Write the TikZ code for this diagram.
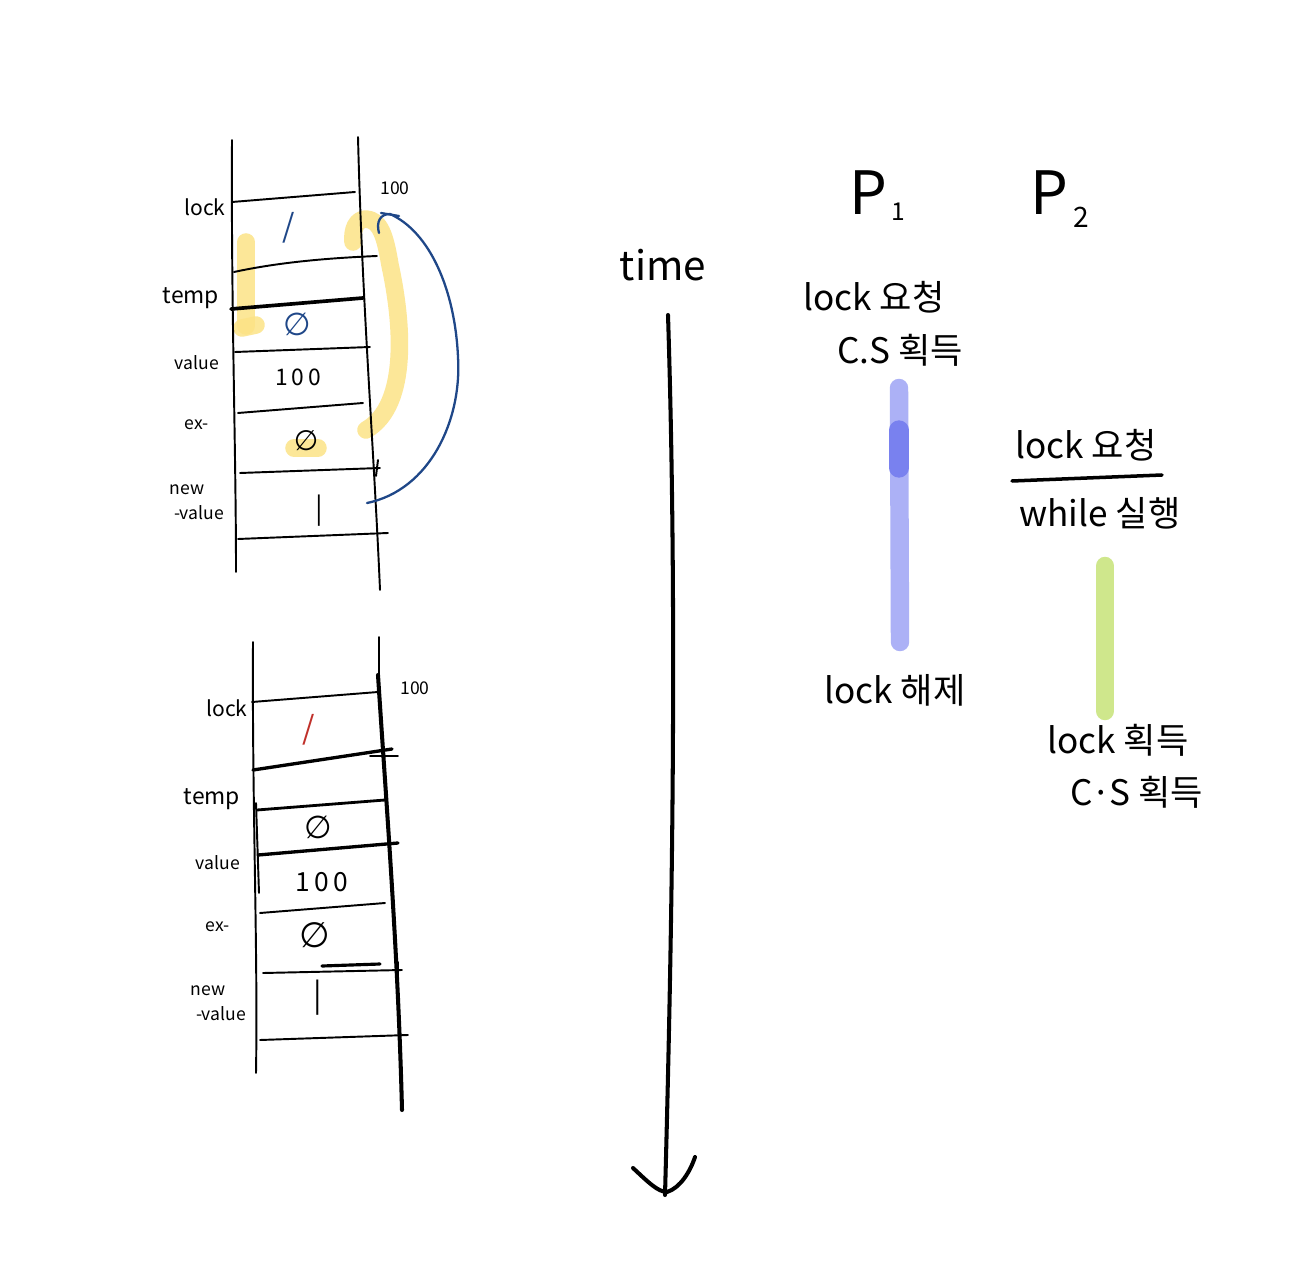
\documentclass[tikz,border=0pt]{standalone}
\usepackage{fontspec}
\setmainfont{Noto Sans CJK KR}
\newfontfamily\dvf{DejaVu Sans}
\begin{document}
\begin{tikzpicture}[x=0.02cm,y=-0.02cm,
  pen/.style={line width=1.1pt, line cap=round, line join=round},
  thickpen/.style={line width=2.1pt, line cap=round, line join=round},
  hl/.style={line width=10pt, line cap=round, line join=round, draw=hlyellow, opacity=0.85},
  bluepen/.style={line width=1.3pt, line cap=round, draw=penblue},
  lab/.style={inner sep=0pt, font=\fontsize{10}{12}\selectfont},
  val/.style={inner sep=0pt, font=\fontsize{13}{14}\selectfont},
  big/.style={inner sep=0pt, font=\fontsize{20}{24}\selectfont},
  bar/.style={line cap=round}]
\definecolor{hlyellow}{HTML}{FCE386}
\definecolor{penblue}{HTML}{1F4788}
\definecolor{penred}{HTML}{C0302A}
\definecolor{barblue}{HTML}{ACB1F6}
\definecolor{bardark}{HTML}{7981EF}
\definecolor{bargreen}{HTML}{CFE78C}
\fill[white] (0,0) rectangle (1315,1283);
\useasboundingbox (0,0) rectangle (1315,1283);

% ---------- top table ----------
% highlights
\draw[hl] (246,242) -- (246,326);
\draw[hl] (242,328) -- (256,325);
\draw[hl] (366,430) .. controls (410,405) and (402,320) .. (390,265)
          .. controls (385,235) and (380,220) .. (366,219)
          .. controls (356,219) and (352,230) .. (353,242);
\draw[hl] (294,448) -- (318,448);
% frame
\draw[pen] (232,140) .. controls (231,300) and (236,450) .. (236,572);
\draw[pen] (358,137) .. controls (362,300) and (374,450) .. (380,590);
\draw[pen] (232,202) -- (355,192);
\draw[pen] (234,272) .. controls (280,262) and (330,258) .. (377,256);
\draw[thickpen] (231,309) -- (363,298);
\draw[pen] (235,352) -- (370,347);
\draw[pen] (238,413) -- (363,403);
\draw[pen] (240,473) -- (380,468);
\draw[pen] (378,460) -- (376,476);
\draw[pen] (238,539) -- (388,533);
% labels
\node[lab, font=\fontsize{12}{12}\selectfont] (tlock) at (205,207) {lock};
\node[lab, font=\fontsize{13}{13}\selectfont] (ttemp) at (191,298) {temp};
\node[lab] (tvalue) at (197,363) {value};
\node[lab] (tex) at (197,425) {ex-};
\node[lab] (tnew) at (187,490) {new};
\node[lab] (tnewv) at (199,513) {-value};
\node[lab] (t100) at (395,188) {100};
% cell values
\node[val, text=penblue, font=\fontsize{18}{18}\selectfont] (tv1) at (289,228) {/};
\node[val, text=penblue, font=\dvf\fontsize{18}{18}\selectfont] (tv2) at (297,324) {∅};
\node[val] (tv3) at (298,377) {1\,0\,0};
\node[val, font=\dvf\fontsize{16}{16}\selectfont] (tv4) at (306,441) {∅};
\node[val, font=\fontsize{16}{16}\selectfont] (tv5) at (319,511) {|};
\coordinate (bstart) at (367,503);
\coordinate (bend) at (379,233);
% blue curved arrow
\draw[bluepen] (bstart) .. controls (430,490) and (462,420) .. (458,357)
   .. controls (455,290) and (430,232) .. (390,214)
   .. controls (380,214) and (376,222) .. (bend);
\draw[bluepen] (381,213) -- (399,216);

% ---------- bottom table ----------
\draw[pen] (253,642) .. controls (252,800) and (258,950) .. (256,1073);
\draw[pen] (379,637) -- (379,680);
\draw[line width=2.3pt, line cap=round] (378,675) .. controls (386,800) and (398,950) .. (402,1110);
\draw[pen] (256,803) -- (259,893);
\draw[pen] (252,702) -- (378,692);
\draw[line width=1.9pt, line cap=round] (253,770) -- (392,749);
\draw[pen] (370,756) -- (398,756);
\draw[line width=1.6pt, line cap=round] (257,810) -- (385,800);
\draw[line width=1.9pt, line cap=round] (258,855) -- (398,843);
\draw[pen] (260,913) -- (385,903);
\draw[pen] (263,973) -- (402,970);
\draw[line width=1.8pt, line cap=round] (322,966) -- (380,964);
\draw[pen] (398,962) -- (398,976);
\draw[pen] (260,1040) -- (408,1035);
% labels
\node[lab, font=\fontsize{12}{12}\selectfont] (block) at (227,708) {lock};
\node[lab, font=\fontsize{13}{13}\selectfont] (btemp) at (212,799) {temp};
\node[lab] (bvalue) at (218,863) {value};
\node[lab] (bex) at (218,927) {ex-};
\node[lab] (bnew) at (208,991) {new};
\node[lab] (bnewv) at (221,1014) {-value};
\node[lab] (b100) at (415,688) {100};
% cell values
\node[val, text=penred, font=\fontsize{18}{18}\selectfont] (bv1) at (309,730) {/};
\node[val, font=\dvf\fontsize{18}{18}\selectfont] (bv2) at (318,827) {∅};
\node[val, font=\fontsize{15}{15}\selectfont] (bv3) at (322,882) {1\,0\,0};
\node[val, font=\dvf\fontsize{20}{20}\selectfont] (bv4) at (315,935) {∅};
\node[val, font=\fontsize{18}{18}\selectfont] (bv5) at (318,998) {|};

% ---------- time axis ----------
\node[inner sep=0pt, font=\fontsize{23}{24}\selectfont] (time) at (663,265) {time};
\coordinate (tstart) at (668,315);
\coordinate (tend) at (665,1195);
\draw[line width=2.3pt, line cap=round] (tstart) .. controls (677,600) and (673,900) .. (tend);
\draw[line width=2.3pt, line cap=round, line join=round] (633,1168) .. controls (648,1182) and (658,1192) .. (667,1192)
   .. controls (680,1188) and (690,1172) .. (695,1157);

% ---------- processes ----------
\node[inner sep=0pt, font=\fontsize{34}{34}\selectfont] (p1) at (868,193) {P};
\node[inner sep=0pt, font=\fontsize{14}{14}\selectfont] (p1s) at (898,212) {1};
\node[inner sep=0pt, font=\fontsize{34}{34}\selectfont] (p2) at (1049,193) {P};
\node[inner sep=0pt, font=\fontsize{16}{16}\selectfont] (p2s) at (1081,217) {2};

\draw[bar, line width=10.5pt, draw=barblue] (899,388) -- (900,642);
\draw[bar, line width=11pt, draw=bardark] (899,430) -- (899,468);
\draw[bar, line width=10.5pt, draw=bargreen] (1105,566) -- (1105,711);

\node[big] (req1) at (874,297) {lock 요청};
\node[big] (cs1) at (900,350) {C.S 획득};
\node[big] (rel1) at (895,690) {lock 해제};
\node[big] (req2) at (1086,445) {lock 요청};
\draw[line width=2pt, line cap=round] (1012,481) -- (1162,475);
\node[big] (wh2) at (1100,513) {while 실행};
\node[big] (acq2) at (1118,740) {lock 획득};
\node[big] (cs2) at (1137,792) {C·S 획득};
\end{tikzpicture}
\end{document}
